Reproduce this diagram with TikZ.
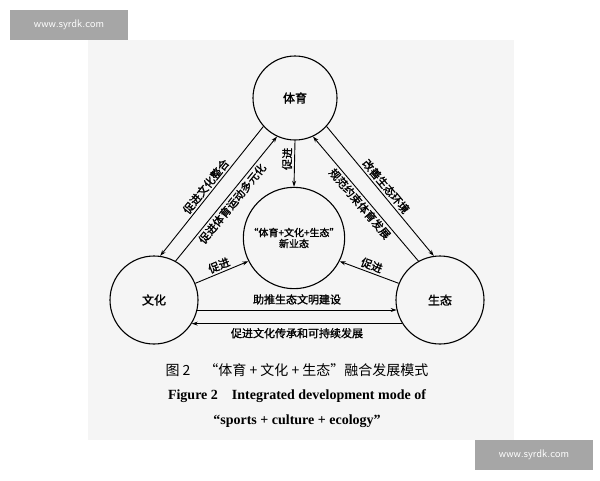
\documentclass[tikz,border=0pt]{standalone}
\usepackage{fontspec}
\setmainfont{Liberation Serif}
\newfontfamily\cjk{Noto Sans CJK SC}
\newfontfamily\cjkb{Noto Sans CJK SC}[FakeBold=1.5]
\usetikzlibrary{arrows.meta}
\tikzset{
  realm/.style={draw,circle,line width=1.1pt,font=\cjkb\fontsize{12}{12}\selectfont},
  flow/.style={line width=0.9pt,-{Stealth[length=6pt,width=4pt]}},
  flowtag/.style={font=\cjkb\fontsize{11}{11}\selectfont,sloped,inner sep=2pt},
  stamp/.style={fill=black!35,text=white,font=\sffamily\fontsize{11}{11}\selectfont,minimum width=118pt,minimum height=30pt}
}
\begin{document}
\begin{tikzpicture}[x=1pt,y=-1pt]
    \useasboundingbox[fill=white] (0,0) rectangle (600,480);
    \fill[black!4] (88,40) rectangle (514,440);
    \node[stamp] (wa) at (69,25) {www.syrdk.com};
    \node[stamp] (wb) at (534,455) {www.syrdk.com};

    \node[realm,minimum size=84pt] (T) at (295,98) {体育};
    \node[realm,minimum size=88pt] (W) at (154,300) {文化};
    \node[realm,minimum size=88pt] (S) at (440,300) {生态};
    \node[realm,minimum size=100pt,align=center,font=\cjkb\fontsize{10}{11}\selectfont] (C) at (294,238) {“体育+文化+生态”\\新业态};

    \draw[flow] (T.222) -- node[flowtag,above] {促进文化整合} (W.82);
    \draw[flow] (W.61) -- node[flowtag,below] {促进体育运动多元化} (T.245);
    \draw[flow] (S.119) -- node[flowtag,below] {规范约束体育发展} (T.295);
    \draw[flow] (T.318) -- node[flowtag,above] {改善生态环境} (S.98);
    \draw[flow] (T.south) -- node[flowtag,above,pos=0.4] {促进} (C.north);
    \draw[flow] (W.22) -- node[flowtag,above] {促进} (C.207);
    \draw[flow] (S.158) -- node[flowtag,above] {促进} (C.333);
    \draw[flow] (W.-13) -- node[flowtag,above=3pt] {助推生态文明建设} (S.193);
    \draw[flow] (S.212) -- node[flowtag,below=2pt] {促进文化传承和可持续发展} (W.-32);

    \node[font=\cjk\fontsize{14}{14}\selectfont] (cap1) at (297,370) {图 2\quad “体育 + 文化 + 生态”融合发展模式};
    \node[font=\bfseries\fontsize{14}{14}\selectfont] (cap2) at (297,396) {Figure 2\quad Integrated development mode of};
    \node[font=\bfseries\fontsize{14}{14}\selectfont] (cap3) at (297,421) {“sports + culture + ecology”};
\end{tikzpicture}
\end{document}
